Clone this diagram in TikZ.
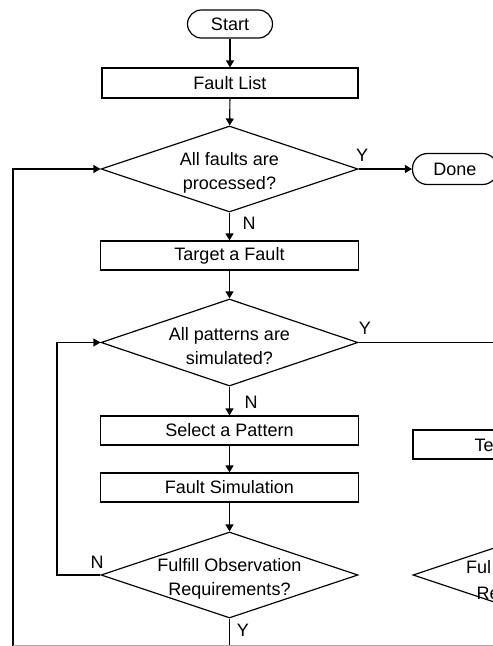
\documentclass[tikz,border=0pt]{standalone}
\usepackage{fontspec}
\setmainfont{Liberation Sans}
\usetikzlibrary{shapes.geometric,arrows.meta}
\begin{document}
\begin{tikzpicture}[x=1pt,y=-1pt,
  every node/.style={font=\fontsize{18}{24}\selectfont},
  line/.style={line width=1.2pt},
  arr/.style={line width=1.2pt,-{Triangle[length=7pt,width=8pt]}},
  term/.style={draw,line width=1.2pt,rectangle,rounded corners=14pt,minimum width=85pt,minimum height=28pt,inner sep=0pt},
  proc/.style={draw,line width=1.2pt,rectangle,minimum width=258pt,minimum height=29pt,inner sep=0pt},
  dec/.style={draw,line width=1.2pt,diamond,minimum width=257pt,minimum height=86pt,inner sep=0pt},
  dtxt/.style={align=center,yshift=-4pt},
  yn/.style={inner sep=0pt},
  frag/.style={inner sep=0pt,anchor=west}]
\useasboundingbox (0,0) rectangle (493,646);
\clip (0,0) rectangle (493,646);

% main column
\node[term] (start) at (230,24) {Start};
\node[proc,minimum width=256pt,minimum height=30pt] (flist) at (230,83) {Fault List};
\node[dec,label={[dtxt]center:All faults are\\processed?}] (d1) at (229.5,169) {};
\node[term,minimum height=31pt,rounded corners=15pt] (done) at (455,169) {Done};
\node[proc] (target) at (229.5,255.5) {Target a Fault};
\node[dec,minimum height=87pt,label={[dtxt]center:All patterns are\\simulated?}] (d2) at (229.5,342.5) {};
\node[proc] (select) at (229.5,430.5) {Select a Pattern};
\node[proc] (fsim) at (229.5,487.5) {Fault Simulation};
\node[dec,label={[dtxt]center:Fulfill Observation\\Requirements?}] (d3) at (229.5,575) {};

% partially visible right column
\node[proc] (test) at (542,444.5) {};
\node[frag] (testtxt) at (474.5,445) {Te};
\node[dec] (d4) at (541.5,575) {};
\node[frag] (d4a) at (466,567) {Ful};
\node[frag] (d4b) at (476.5,593) {Re};

% Y / N labels
\node[yn] (y1) at (362,155) {Y};
\node[yn] (n1) at (249,223) {N};
\node[yn] (y2) at (365,328) {Y};
\node[yn] (n2) at (251,402) {N};
\node[yn] (n3) at (97,562) {N};
\node[yn] (y3) at (243,630) {Y};

% connectors
\draw[arr] (start) -- (flist);
\draw[arr] (flist) -- (d1);
\draw[arr] (d1.east) -- (done.west);
\draw[arr] (d1.south) -- (target);
\draw[arr] (target) -- (d2.north);
\draw[arr] (d2.south) -- (select);
\draw[arr] (select) -- (fsim);
\draw[arr] (fsim) -- (d3.north);

\coordinate (il) at (57,575);
\draw[arr] (d3.west) -- (il) |- (d2.west);

\coordinate (ol) at (13,650);
\draw[arr] (ol) |- (d1.west);

\coordinate (d2out) at (500,342.5);
\draw[line] (d2.east) -- (d2out);

\coordinate (d3out) at (229.5,650);
\draw[line] (d3.south) -- (d3out);

\coordinate (bl) at (13,645.2);
\coordinate (br) at (500,645.2);
\draw[black!35,line width=1pt] (bl) -- (br);
\end{tikzpicture}
\end{document}
